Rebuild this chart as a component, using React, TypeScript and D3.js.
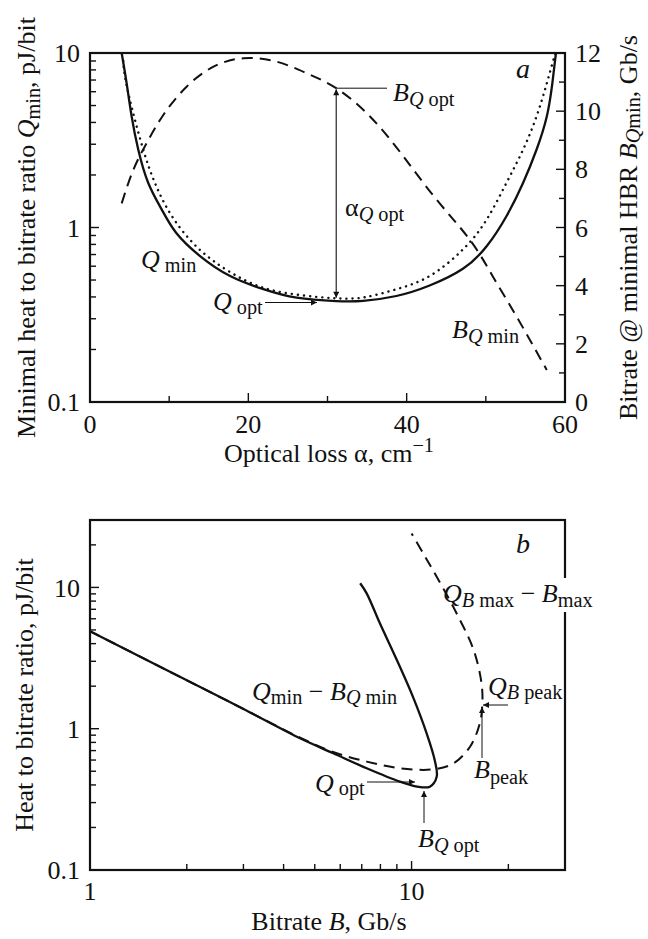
import React from "react";
import * as d3 from "d3";

const W = 648;
const H = 939;
const FONT = "'Liberation Serif','Times New Roman',serif";

// ---------- Panel a data ----------
const alphaQmin = [4.0, 4.63, 5.26, 6.1, 7.36, 9.05, 10.9, 13.9, 17.7, 21.9, 26.1, 31.1, 34.5, 38.7, 42.9, 47.1, 50.1, 52.6, 54.7, 56.4, 57.7, 58.4, 58.9];
const qMinValues = [10, 6.7, 4.33, 2.79, 1.8, 1.27, 0.93, 0.686, 0.527, 0.443, 0.396, 0.379, 0.38, 0.405, 0.465, 0.58, 0.78, 1.16, 1.8, 2.79, 4.33, 6.7, 10.4];

const alphaDotted = [4.2, 4.42, 5.26, 6.73, 8.2, 10.1, 12.6, 15.6, 19.8, 24.4, 29.5, 31.6, 34.5, 38.7, 42.9, 47.1, 50.1, 52.6, 54.7, 56.4, 57.7, 58.4, 58.8];
const qDottedValues = [9.0, 7.3, 4.9, 2.79, 1.8, 1.21, 0.853, 0.643, 0.493, 0.424, 0.397, 0.392, 0.397, 0.443, 0.527, 0.748, 1.11, 1.8, 2.79, 4.33, 6.7, 8.7, 10];

const alphaBQmin = [4.0, 5.47, 7.15, 9.26, 12.2, 15.6, 19.4, 23.6, 27.4, 31.1, 35.4, 39.6, 43.8, 48, 50.9, 53.9, 57.7];
const bQminValues = [6.83, 7.98, 8.9, 9.87, 10.84, 11.53, 11.82, 11.7, 11.3, 10.79, 9.81, 8.44, 6.95, 5.57, 4.31, 2.93, 1.1];

const aXTicks = [0, 10, 20, 30, 40, 50, 60];
const aXLabels = ["0", "20", "40", "60"];
const aYLabels = ["0.1", "1", "10"];
const aRTicks = [0, 1, 2, 3, 4, 5, 6, 7, 8, 9, 10, 11, 12];
const aRLabels = ["0", "2", "4", "6", "8", "10", "12"];

// ---------- Panel b data ----------
const bSolidB = [1, 2, 3, 4.5, 5.71, 7.25, 9.2, 10.4, 11.4, 11.97, 11.8, 11.14, 10.1, 9.0, 7.97, 7.25, 6.92];
const bSolidQ = [4.9, 2.2, 1.38, 0.855, 0.67, 0.525, 0.422, 0.389, 0.389, 0.457, 0.6, 0.927, 1.68, 3.06, 5.57, 9.08, 10.7];

const bDashB = [1, 2, 3, 4.5, 5.7, 7.25, 9.2, 11.7, 13.5, 15.2, 16.3, 16.6, 16.5, 15.6, 13.8, 11.97, 10.87, 10.0];
const bDashQ = [4.9, 2.2, 1.38, 0.865, 0.685, 0.585, 0.525, 0.516, 0.569, 0.746, 1.09, 1.51, 2.1, 3.6, 6.56, 11.9, 17.4, 24.1];

const bXLabels = ["1", "10"];
const bYLabels = ["0.1", "1", "10"];

// ---------- helpers ----------
type Part = { t: string; i?: boolean; sub?: boolean; sup?: boolean };

function Rich(props: {
  x: number;
  y: number;
  parts: Part[];
  size?: number;
  anchor?: string;
  transform?: string;
  subShift?: number;
}) {
  const size = props.size ?? 26;
  const subShift = props.subShift ?? size * 0.2;
  let cur = 0;
  const spans = props.parts.map((p, k) => {
    const target = p.sub ? subShift : p.sup ? -size * 0.4 : 0;
    const dy = target - cur;
    cur = target;
    return (
      <tspan
        key={k}
        dy={dy !== 0 ? dy : undefined}
        fontStyle={p.i ? "italic" : "normal"}
        fontSize={p.sub || p.sup ? size * 0.78 : size}
      >
        {p.t}
      </tspan>
    );
  });
  return (
    <text
      x={props.x}
      y={props.y}
      fontFamily={FONT}
      fontSize={size}
      textAnchor={props.anchor ?? "start"}
      transform={props.transform}
      fill="#111"
    >
      {spans}
    </text>
  );
}

function logMinorTicks(lo: number, hi: number): number[] {
  const out: number[] = [];
  for (let d = lo; d < hi; d *= 10) {
    for (let k = 1; k <= 9; k++) {
      const v = d * k;
      if (v > lo * 0.999 && v < hi * 1.001) out.push(v);
    }
  }
  out.push(hi);
  return out;
}

export default function App() {
  // Panel a scales
  const L = 90, R = 565;
  const aTop = 53, aBot = 402;
  const ax = d3.scaleLinear().domain([0, 60]).range([L, R]);
  const ayL = d3.scaleLog().domain([0.1, 10]).range([aBot, aTop]);
  const ayR = d3.scaleLinear().domain([0, 12]).range([aBot, aTop]);

  // Panel b scales
  const bTop = 520, bBot = 870;
  const bx = d3.scaleLog().domain([1, 30]).range([L, R]);
  const by = d3.scaleLog().domain([0.1, 30]).range([bBot, bTop]);

  const curveA = d3.curveNatural;
  const curveB = d3.curveCatmullRom.alpha(0.5);

  const lineQmin = d3
    .line<number>()
    .x((_, i) => ax(alphaQmin[i]))
    .y((d) => ayL(d))
    .curve(curveA)(qMinValues) as string;
  const lineDot = d3
    .line<number>()
    .x((_, i) => ax(alphaDotted[i]))
    .y((d) => ayL(d))
    .curve(curveA)(qDottedValues) as string;
  const lineB = d3
    .line<number>()
    .x((_, i) => ax(alphaBQmin[i]))
    .y((d) => ayR(d))
    .curve(curveA)(bQminValues) as string;

  const lineBSolid = d3
    .line<number>()
    .x((_, i) => bx(bSolidB[i]))
    .y((d) => by(d))
    .curve(curveB)(bSolidQ) as string;
  const lineBDash = d3
    .line<number>()
    .x((_, i) => bx(bDashB[i]))
    .y((d) => by(d))
    .curve(curveB)(bDashQ) as string;

  const aLeftTicks = logMinorTicks(0.1, 10);
  const bLeftTicks = logMinorTicks(0.1, 10).concat([20]);
  const bBottomTicks = logMinorTicks(1, 10).concat([20]);

  const isDecade = (v: number) => Math.abs(Math.log10(v) - Math.round(Math.log10(v))) < 1e-6;

  const stroke = "#111";
  const tickLabelSize = 26;

  return (
    <svg
      width={W}
      height={H}
      viewBox={`0 0 ${W} ${H}`}
      style={{ position: "absolute", left: 0, top: 0, background: "#fff" }}
    >
      <defs>
        <marker id="arr" viewBox="0 0 10 10" refX="10" refY="5" markerWidth="8" markerHeight="6" markerUnits="userSpaceOnUse" orient="auto-start-reverse">
          <path d="M0,0 L10,5 L0,10 Z" fill="#111" />
        </marker>
        <clipPath id="clipA">
          <rect x={L} y={aTop} width={R - L} height={aBot - aTop} />
        </clipPath>
        <clipPath id="clipB">
          <rect x={L} y={bTop} width={R - L} height={bBot - bTop} />
        </clipPath>
      </defs>
      <rect x={0} y={0} width={W} height={H} fill="#fff" />

      {/* ================= Panel a ================= */}
      <g clipPath="url(#clipA)" fill="none" stroke={stroke}>
        <path d={lineQmin} strokeWidth={2.3} />
        <path d={lineDot} strokeWidth={2.4} strokeDasharray="0.1 6" strokeLinecap="round" />
        <path d={lineB} strokeWidth={2} strokeDasharray="11 7" />
      </g>
      <rect x={L} y={aTop} width={R - L} height={aBot - aTop} fill="none" stroke={stroke} strokeWidth={2.2} />

      {aXTicks.slice(1, -1).map((v) => (
        <line key={"axt" + v} x1={ax(v)} x2={ax(v)} y1={aBot} y2={aBot - (v % 20 === 0 ? 9 : 6)} stroke={stroke} strokeWidth={1.4} />
      ))}
      {aXLabels.map((s) => (
        <text key={"axl" + s} x={ax(+s)} y={433} textAnchor="middle" fontFamily={FONT} fontSize={tickLabelSize} fill="#111">
          {s}
        </text>
      ))}
      {aLeftTicks
        .filter((v) => v > 0.1 * 1.001 && v < 10 * 0.999)
        .map((v) => (
          <line key={"alt" + v} x1={L} x2={L + (isDecade(v) ? 9 : 6)} y1={ayL(v)} y2={ayL(v)} stroke={stroke} strokeWidth={1.4} />
        ))}
      {aYLabels.map((s) => (
        <text key={"ayl" + s} x={80} y={ayL(+s)} dy="0.35em" textAnchor="end" fontFamily={FONT} fontSize={tickLabelSize} fill="#111">
          {s}
        </text>
      ))}
      {aRTicks.slice(1, -1).map((v) => (
        <line key={"art" + v} x1={R} x2={R - (v % 2 === 0 ? 9 : 6)} y1={ayR(v)} y2={ayR(v)} stroke={stroke} strokeWidth={1.4} />
      ))}
      {aRLabels.map((s) => (
        <text key={"arl" + s} x={575} y={ayR(+s)} dy="0.35em" textAnchor="start" fontFamily={FONT} fontSize={tickLabelSize} fill="#111">
          {s}
        </text>
      ))}

      {/* axis titles a */}
      <Rich x={329} y={462} anchor="middle" parts={[{ t: "Optical loss α, cm" }, { t: "−1", sup: true }]} />
      <Rich
        x={0}
        y={0}
        anchor="middle"
        transform={`translate(35,${(aTop + aBot) / 2}) rotate(-90)`}
        parts={[{ t: "Minimal heat to bitrate ratio " }, { t: "Q", i: true }, { t: "min", sub: true }, { t: ", pJ/bit" }]}
      />
      <Rich
        x={0}
        y={0}
        anchor="middle"
        subShift={3}
        transform={`translate(637,${(aTop + aBot) / 2}) rotate(-90)`}
        parts={[{ t: "Bitrate @ minimal HBR " }, { t: "B", i: true }, { t: "Q", i: true, sub: true }, { t: "min", sub: true }, { t: ", Gb/s" }]}
      />

      {/* annotations a */}
      <Rich x={516} y={78} parts={[{ t: "a", i: true }]} size={28} />
      <line x1={ax(31.1)} x2={387} y1={ayR(10.79)} y2={ayR(10.79)} stroke={stroke} strokeWidth={1} />
      <Rich x={393} y={101} parts={[{ t: "B", i: true }, { t: "Q", i: true, sub: true }, { t: " opt", sub: true }]} />
      <line x1={ax(31.1)} x2={ax(31.1)} y1={ayR(10.79) + 1} y2={ayL(0.385) - 2} stroke={stroke} strokeWidth={1.1} markerStart="url(#arr)" markerEnd="url(#arr)" />
      <Rich x={345} y={216} parts={[{ t: "α" }, { t: "Q", i: true, sub: true }, { t: " opt", sub: true }]} />
      <Rich x={141} y={268} subShift={4} parts={[{ t: "Q", i: true }, { t: " min", sub: true }]} />
      <Rich x={213} y={310} subShift={4} parts={[{ t: "Q", i: true }, { t: " opt", sub: true }]} />
      <line x1={265} x2={317} y1={302.5} y2={302.5} stroke={stroke} strokeWidth={1} markerEnd="url(#arr)" />
      <Rich x={452} y={338} parts={[{ t: "B", i: true }, { t: "Q", i: true, sub: true }, { t: " min", sub: true }]} />

      {/* ================= Panel b ================= */}
      <g clipPath="url(#clipB)" fill="none" stroke={stroke}>
        <path d={lineBDash} strokeWidth={2} strokeDasharray="11 7" />
        <path d={lineBSolid} strokeWidth={2.3} />
      </g>
      <rect x={L} y={bTop} width={R - L} height={bBot - bTop} fill="none" stroke={stroke} strokeWidth={2.2} />

      {bBottomTicks
        .filter((v) => v > 1.001)
        .map((v) => (
          <line key={"bxt" + v} x1={bx(v)} x2={bx(v)} y1={bBot} y2={bBot - (isDecade(v) ? 9 : 6)} stroke={stroke} strokeWidth={1.4} />
        ))}
      {bXLabels.map((s) => (
        <text key={"bxl" + s} x={bx(+s)} y={900} textAnchor="middle" fontFamily={FONT} fontSize={tickLabelSize} fill="#111">
          {s}
        </text>
      ))}
      {bLeftTicks
        .filter((v) => v > 0.1 * 1.001)
        .map((v) => (
          <line key={"blt" + v} x1={L} x2={L + (isDecade(v) ? 9 : 6)} y1={by(v)} y2={by(v)} stroke={stroke} strokeWidth={1.4} />
        ))}
      {bYLabels.map((s) => (
        <text key={"byl" + s} x={80} y={by(+s)} dy="0.35em" textAnchor="end" fontFamily={FONT} fontSize={tickLabelSize} fill="#111">
          {s}
        </text>
      ))}

      <Rich x={329} y={930} anchor="middle" parts={[{ t: "Bitrate " }, { t: "B", i: true }, { t: ", Gb/s" }]} />
      <Rich
        x={0}
        y={0}
        anchor="middle"
        transform={`translate(33,${(bTop + bBot) / 2}) rotate(-90)`}
        parts={[{ t: "Heat to bitrate ratio, pJ/bit" }]}
      />

      {/* annotations b */}
      <Rich x={516} y={553} parts={[{ t: "b", i: true }]} size={28} />
      <rect x={556} y={578} width={20} height={34} fill="#fff" />
      <Rich
        x={443}
        y={602}
        subShift={5}
        parts={[{ t: "Q", i: true }, { t: "B", i: true, sub: true }, { t: " max", sub: true }, { t: " − " }, { t: "B", i: true }, { t: "max", sub: true }]}
      />
      <Rich x={252} y={700} subShift={4} parts={[{ t: "Q", i: true }, { t: "min", sub: true }, { t: " − " }, { t: "B", i: true }, { t: "Q", i: true, sub: true }, { t: " min", sub: true }]} />
      <Rich x={488} y={695} subShift={4} parts={[{ t: "Q", i: true }, { t: "B", i: true, sub: true }, { t: " peak", sub: true }]} />
      <line x1={508} x2={483} y1={705} y2={705} stroke={stroke} strokeWidth={1} markerEnd="url(#arr)" />
      <line x1={482} x2={482} y1={758} y2={707} stroke={stroke} strokeWidth={1} markerEnd="url(#arr)" />
      <Rich x={474} y={778} subShift={6} parts={[{ t: "B", i: true }, { t: "peak", sub: true }]} />
      <Rich x={315} y={792} subShift={3} parts={[{ t: "Q", i: true }, { t: " opt", sub: true }]} />
      <line x1={367} x2={415} y1={782} y2={782} stroke={stroke} strokeWidth={1} markerEnd="url(#arr)" />
      <line x1={424} x2={424} y1={823} y2={791} stroke={stroke} strokeWidth={1} markerEnd="url(#arr)" />
      <Rich x={418} y={847} parts={[{ t: "B", i: true }, { t: "Q", i: true, sub: true }, { t: " opt", sub: true }]} />
    </svg>
  );
}
